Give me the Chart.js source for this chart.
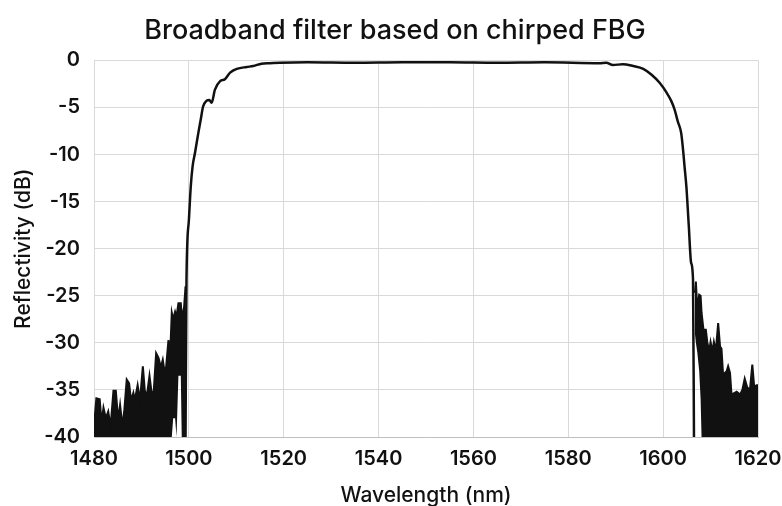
<!DOCTYPE html>
<html lang="en">
<head>
  <meta charset="UTF-8">
  <title>Broadband filter based on chirped FBG</title>
  <script src="https://cdn.jsdelivr.net/npm/chart.js"></script>
  <style>
    body {
      margin: 0;
      background: #fff;
    }
    .chart-container {
      position: relative;
      width: 782px;
      height: 506px;
    }
  </style>
</head>
<body>
  <div class="chart-container">
    <canvas id="fbgChart"></canvas>
  </div>

  <script>
    // noisy floor below the band edge, short wavelength side
    const leftNoiseNm = [1480.0, 1480.5, 1481.2, 1481.6, 1482.0, 1482.5, 1483.0, 1483.5, 1484.1, 1484.6,
      1485.1, 1485.5, 1486.0, 1486.4, 1486.9, 1487.4, 1487.8, 1488.3, 1488.6, 1489.2,
      1489.7, 1490.3, 1490.7, 1491.1, 1491.7, 1492.2, 1492.6, 1493.1, 1493.6, 1494.1,
      1494.5, 1494.8, 1495.2, 1495.7, 1496.0, 1496.4, 1496.7, 1497.1, 1497.4, 1497.8,
      1498.3, 1498.5, 1499.0, 1499.3];
    const leftNoiseTop = [-38.8, -35.9, -36.0, -38.5, -36.9, -38.0, -37.3, -38.9, -35.1, -35.1,
      -38.2, -36.6, -38.9, -37.1, -33.9, -34.3, -36.1, -35.3, -36.1, -34.5,
      -36.1, -32.5, -35.0, -35.8, -33.5, -35.5, -35.1, -31.1, -31.6, -32.6,
      -31.8, -32.8, -32.6, -29.7, -32.0, -26.8, -27.5, -26.7, -27.2, -25.8,
      -25.8, -27.4, -26.2, -24.0];
    const leftNoiseFloor = [-40, -40, -40, -40, -40, -40, -40, -40, -40, -40,
      -40, -40, -40, -40, -40, -40, -40, -40, -40, -40,
      -40, -40, -40, -40, -40, -40, -40, -40, -40, -40,
      -40, -40, -40, -40, -40, -40, -38, -38, -40, -33.5,
      -33.5, -40, -40, -40];

    // main reflection band
    const bandNm = [1499.3, 1499.5, 1500.0, 1500.4, 1500.8, 1501.3, 1502.0, 1502.5, 1503.0, 1503.7,
      1504.3, 1504.8, 1505.5, 1506.6, 1507.6, 1508.7, 1510.1, 1512.2, 1513.6, 1515.3,
      1517.1, 1519.2, 1525, 1535, 1545, 1555, 1565, 1575, 1586.6, 1588.0,
      1589.4, 1591.5, 1593.7, 1595.8, 1597.5, 1599.3, 1600.7, 1601.7, 1602.4, 1603.1,
      1603.8, 1604.2, 1604.5, 1604.9, 1605.4, 1605.9, 1606.3, 1606.5];
    const bandDb = [-40, -23.3, -17.0, -13.4, -11.2, -9.8, -7.7, -6.3, -4.9, -4.3,
      -4.2, -4.5, -3.1, -2.2, -2.0, -1.3, -0.9, -0.7, -0.6, -0.35,
      -0.3, -0.25, -0.2, -0.25, -0.2, -0.2, -0.25, -0.2, -0.3, -0.25,
      -0.5, -0.4, -0.6, -0.9, -1.5, -2.4, -3.4, -4.3, -5.2, -6.5,
      -7.7, -9.5, -11.2, -13.4, -17.5, -21.5, -23.3, -40];

    // noisy floor, long wavelength side
    const rightNoiseNm = [1606.7, 1606.9, 1607.2, 1607.6, 1607.9, 1608.1, 1608.5, 1609.0, 1609.3, 1609.7,
      1610.0, 1610.4, 1610.7, 1611.1, 1611.6, 1612.0, 1612.3, 1612.7, 1613.0, 1613.4,
      1613.7, 1614.1, 1614.4, 1614.8, 1615.5, 1616.2, 1616.7, 1617.2, 1617.7, 1618.3,
      1618.8, 1619.2, 1619.7, 1620.0];
    const rightNoiseTop = [-24.7, -23.5, -26.5, -24.9, -25.0, -26.8, -28.6, -28.6, -29.9, -30.9,
      -29.9, -30.9, -29.9, -30.9, -27.9, -30.4, -30.6, -33.9, -33.2, -33.0,
      -32.5, -33.2, -35.4, -35.4, -35.2, -35.5, -35.0, -33.8, -34.7, -35.0,
      -32.3, -34.7, -34.5, -34.5];
    const rightNoiseFloor = [-29, -30, -31, -33, -36, -40, -40, -40, -40, -40,
      -40, -40, -40, -40, -40, -40, -40, -40, -40, -40,
      -40, -40, -40, -40, -40, -40, -40, -40, -40, -40,
      -40, -40, -40, -40];

    const xTicks = [1480, 1500, 1520, 1540, 1560, 1580, 1600, 1620];
    const yTicks = [0, -5, -10, -15, -20, -25, -30, -35, -40];

    const pts = (xs, ys) => xs.map((x, i) => ({ x: x, y: ys[i] }));

    const fontFamily = 'Inter, "Open Sans", sans-serif';
    const ink = '#111';

    const fbgChart = new Chart(document.getElementById('fbgChart'), {
      type: 'line',
      data: {
        datasets: [
          {
            label: 'left noise',
            data: pts(leftNoiseNm, leftNoiseTop),
            borderColor: ink,
            backgroundColor: ink,
            borderWidth: 2,
            pointRadius: 0,
            tension: 0,
            fill: '+1'
          },
          {
            label: 'left floor',
            data: pts(leftNoiseNm, leftNoiseFloor),
            borderColor: 'rgba(0,0,0,0)',
            borderWidth: 0,
            pointRadius: 0,
            fill: false
          },
          {
            label: 'right noise',
            data: pts(rightNoiseNm, rightNoiseTop),
            borderColor: ink,
            backgroundColor: ink,
            borderWidth: 2,
            pointRadius: 0,
            tension: 0,
            fill: '+1'
          },
          {
            label: 'right floor',
            data: pts(rightNoiseNm, rightNoiseFloor),
            borderColor: 'rgba(0,0,0,0)',
            borderWidth: 0,
            pointRadius: 0,
            fill: false
          },
          {
            label: 'Reflectivity',
            data: pts(bandNm, bandDb),
            borderColor: ink,
            borderWidth: 2.5,
            pointRadius: 0,
            tension: 0.3,
            cubicInterpolationMode: 'monotone',
            fill: false
          }
        ]
      },
      options: {
        responsive: true,
        maintainAspectRatio: false,
        animation: false,
        layout: {
          // left padding also shifts the title centre to the right, as in the original
          padding: { left: 32, right: 24, top: 0, bottom: 0 }
        },
        plugins: {
          legend: { display: false },
          tooltip: { enabled: false },
          title: {
            display: true,
            text: 'Broadband filter based on chirped FBG',
            color: ink,
            font: { family: fontFamily, size: 27, weight: '500' },
            padding: { top: 15, bottom: 13 }
          }
        },
        scales: {
          x: {
            type: 'linear',
            min: 1480,
            max: 1620,
            afterBuildTicks: s => { s.ticks = xTicks.map(v => ({ value: v })); },
            afterFit: s => { s.height = 69; s.paddingLeft = 0; s.paddingRight = 0; },
            grid: { color: '#d9d9d9', drawTicks: false },
            border: { color: '#bfbfbf' },
            ticks: {
              color: ink,
              padding: 10,
              callback: v => String(v),
              font: { family: fontFamily, size: 20, weight: '600' }
            },
            title: {
              display: true,
              text: 'Wavelength (nm)',
              color: ink,
              padding: { top: 0, bottom: -2 },
              font: { family: fontFamily, size: 21, weight: '500' }
            }
          },
          y: {
            min: -40,
            max: 0,
            afterBuildTicks: s => { s.ticks = yTicks.map(v => ({ value: v })); },
            afterFit: s => { s.width = 62; },
            grid: { color: '#d9d9d9', drawTicks: false },
            border: { color: '#d9d9d9' },
            ticks: {
              color: ink,
              padding: 14,
              callback: v => String(v),
              font: { family: fontFamily, size: 20, weight: '600' }
            },
            title: {
              display: true,
              text: 'Reflectivity (dB)',
              color: ink,
              padding: { top: -21, bottom: 0 },
              font: { family: fontFamily, size: 21, weight: '500' }
            }
          }
        }
      }
    });
  </script>
</body>
</html>
